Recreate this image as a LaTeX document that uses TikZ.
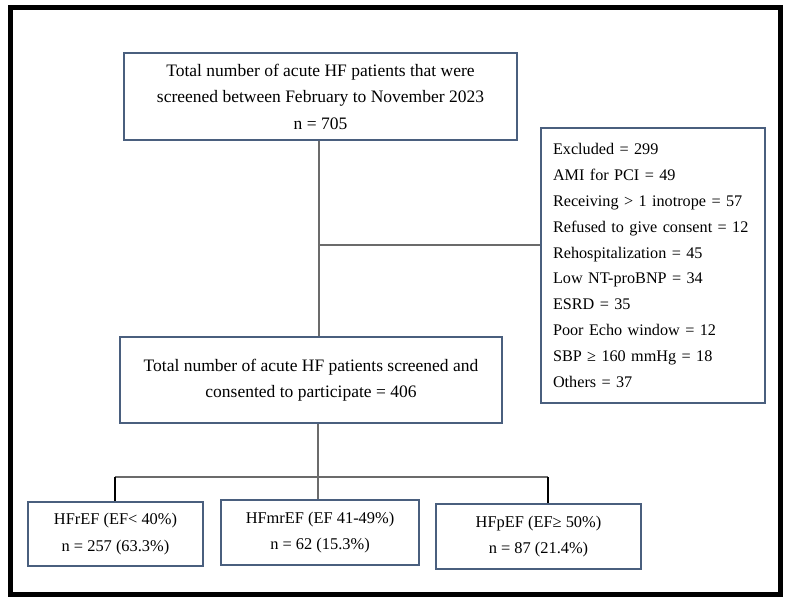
\documentclass[tikz,border=0pt]{standalone}
\usepackage{fontspec}
\setmainfont{Liberation Serif}
\begin{document}
\begin{tikzpicture}[x=1pt,y=-1pt,
  box/.style={draw=boxc,line width=1.5pt,inner sep=0pt,align=center,
    font=\fontsize{16.4}{26.5}\selectfont},
  bigbox/.style={box,font=\fontsize{17.5}{26.5}\selectfont},
  conn/.style={draw=connc,line width=1.2pt},
  drop/.style={draw=black,line width=1.6pt}]
\definecolor{boxc}{HTML}{4A5F7E}
\definecolor{connc}{HTML}{6B6B6B}
\useasboundingbox (0,0) rectangle (789,603);
\node[draw=black,line width=5pt,minimum width=770pt,minimum height=587pt,inner sep=0pt] (frame) at (395.5,301) {};
\node[bigbox,minimum width=393pt,minimum height=87pt] (b1) at (320.5,96.5)
  {Total number of acute HF patients that were\\screened between February to November 2023\\n = 705};
\node[bigbox,minimum width=382pt,minimum height=86pt] (b2) at (311,380)
  {Total number of acute HF patients screened and\\consented to participate = 406};
\node[box,minimum width=224pt,minimum height=275pt,align=left,text width=200pt,
  font=\fontsize{16.2}{25.8}\selectfont] (ex) at (653,265.5)
  {Excluded = 299\\AMI for PCI = 49\\Receiving > 1 inotrope = 57\\Refused to give consent = 12\\Rehospitalization = 45\\Low NT-proBNP = 34\\ESRD = 35\\Poor Echo window = 12\\SBP ≥ 160 mmHg = 18\\Others = 37};
\node[box,minimum width=175pt,minimum height=64pt] (r) at (115.5,534)
  {HFrEF (EF< 40\%)\\n = 257 (63.3\%)};
\node[box,minimum width=198pt,minimum height=65pt] (mr) at (320,532.5)
  {HFmrEF (EF 41-49\%)\\n = 62 (15.3\%)};
\node[box,minimum width=205pt,minimum height=65pt] (p) at (538.5,536.5)
  {HFpEF (EF≥ 50\%)\\n = 87 (21.4\%)};
\coordinate (j1) at (319,245);
\coordinate (j2) at (318,477);
\coordinate (jl) at (115,477);
\coordinate (jr) at (548,477);
\draw[conn] (b1.south -| j1) -- (b2.north -| j1);
\draw[conn] (j1) -- (ex.west |- j1);
\draw[conn] (b2.south -| j2) -- (mr.north -| j2);
\draw[conn] (jl) -- (jr);
\draw[drop] (jl) -- (r.north -| jl);
\draw[drop] (jr) -- (p.north -| jr);
\end{tikzpicture}
\end{document}
